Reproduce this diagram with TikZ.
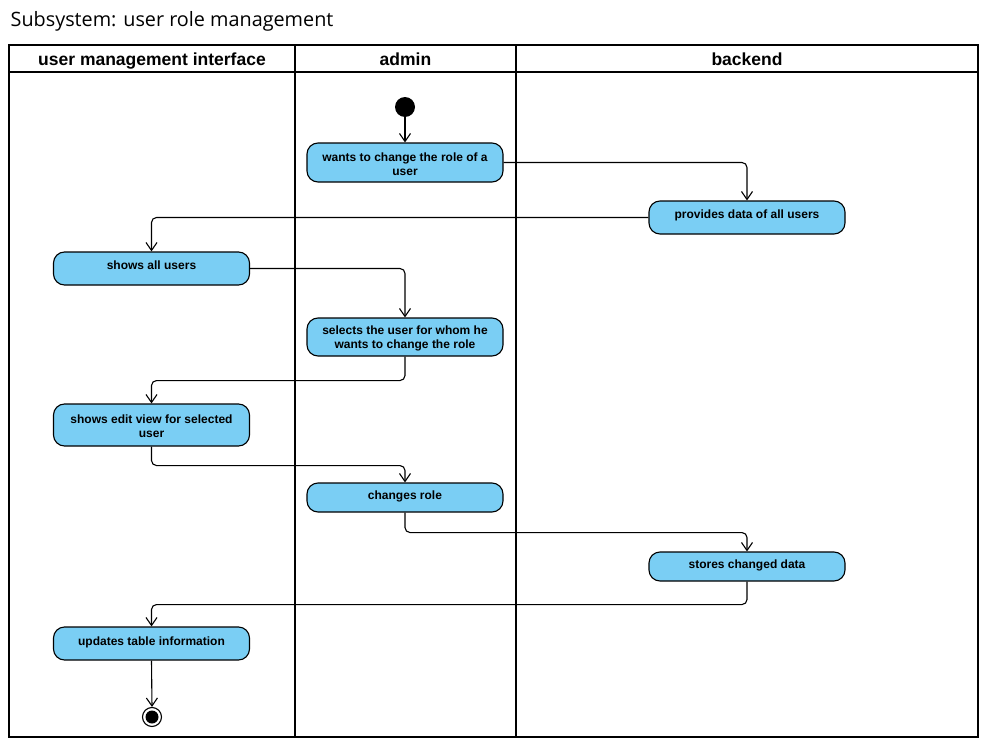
\documentclass[tikz,border=0pt]{standalone}
\usepackage{fontspec}
\setmainfont{Liberation Sans}
\newfontfamily\titlefont{Open Sans}
\usetikzlibrary{arrows.meta}
\definecolor{actfill}{RGB}{122,206,244}
\begin{document}
\begin{tikzpicture}[x=1pt,y=-1pt,
  act/.style={draw, fill=actfill, rounded corners=11pt, minimum width=196pt,
    align=center, font=\bfseries\fontsize{12}{14}\selectfont, line width=1.1pt, inner sep=1pt},
  single/.style={text depth=5.7pt},
  double/.style={text height=26pt},
  flow/.style={draw, line width=1.1pt, rounded corners=5pt,
    -{Straight Barb[length=8pt,width=11pt,line width=1.1pt]}},
  lane/.style={line width=2pt},
  hdr/.style={anchor=base, font=\bfseries\fontsize{17.5}{20}\selectfont}]
\useasboundingbox (0,0) rectangle (989,744);

% title
\node[anchor=base west, inner sep=0, font=\titlefont\fontsize{19.8}{22}\selectfont] (title) at (10.5,27) {Subsystem: user role management};

% swimlanes
\draw[lane] (9,45) rectangle (978,737);
\draw[lane] (9,72) -- (978,72);
\draw[lane] (295,45) -- (295,737);
\draw[lane] (516,45) -- (516,737);
\node[hdr] (h1) at (152,65) {user management interface};
\node[hdr] (h2) at (405.5,65) {admin};
\node[hdr] (h3) at (747,65) {backend};

% nodes
\node[circle, fill=black, minimum size=20pt, inner sep=0] (start) at (405,107) {};
\node[act, double, minimum height=39pt] (wants) at (405,162.5) {wants to change the role of a\\user};
\node[act, single, minimum height=33pt] (provides) at (747,217.5) {provides data of all users};
\node[act, single, minimum height=33pt] (showsall) at (151.5,268.5) {shows all users};
\node[act, double, minimum height=38pt] (selects) at (405,337) {selects the user for whom he\\wants to change the role};
\node[act, double, minimum height=42pt] (editview) at (151.5,425) {shows edit view for selected\\user};
\node[act, single, minimum height=29pt] (changes) at (405,497.5) {changes role};
\node[act, single, minimum height=29pt] (stores) at (747,566.5) {stores changed data};
\node[act, single, minimum height=33pt] (updates) at (151.5,643.5) {updates table information};
\node[circle, draw, line width=1.1pt, minimum size=19pt, inner sep=0] (final) at (152,717) {};
\node[circle, fill=black, minimum size=13pt, inner sep=0] (finaldot) at (152,717) {};

% connectors
\draw[flow] (start) -- (wants);
\draw[flow] (wants.east) -| (provides.north);
\draw[flow] (provides.west) -| (showsall.north);
\draw[flow] (showsall.east) -| (selects.north);
\draw[flow] (selects.south) -- ++(0,24) -| (editview.north);
\draw[flow] (editview.south) -- ++(0,19) -| (changes.north);
\draw[flow] (changes.south) -- ++(0,20) -| (stores.north);
\draw[flow] (stores.south) -- ++(0,23) -| (updates.north);
\draw[flow] (updates.south) -- (final.north);
\end{tikzpicture}
\end{document}
